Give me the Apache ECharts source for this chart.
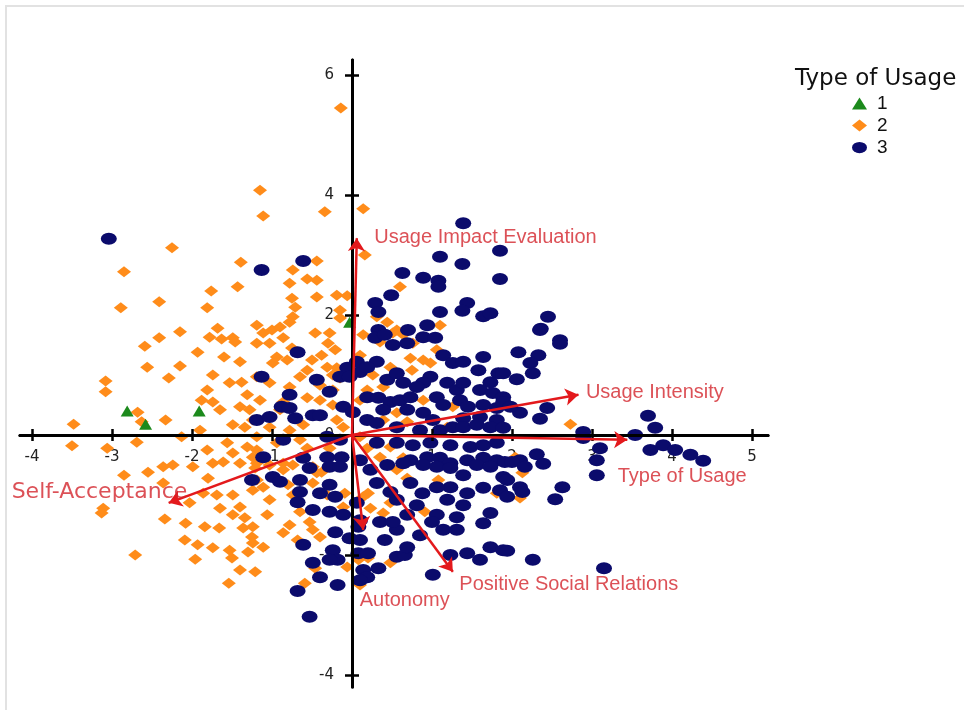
<!DOCTYPE html>
<html>
<head>
<meta charset="utf-8">
<script src="https://cdn.jsdelivr.net/npm/echarts@6/dist/echarts.min.js"></script>
<style>
  html, body { margin: 0; padding: 0; background: #fff; }
  #chart { position: absolute; left: 0; top: 0; width: 964px; height: 710px; }
  #frame { position: absolute; left: 5px; top: 5px; width: 959px; height: 705px;
           border-left: 2px solid #e2e2e2; border-top: 2px solid #e2e2e2; pointer-events: none; }
</style>
</head>
<body>
<div id="chart"></div>
<div id="frame"></div>
<script>
// ---------------- data ----------------
const seriesNames = ['1', '2', '3'];
const legendTitle = 'Type of Usage';

const xTickValues = [-4, -3, -2, -1, 0, 1, 2, 3, 4, 5];
const xTickLabels = [-4, -3, -2, -1, 1, 2, 3, 4, 5];
const yTickValues = [-4, -2, 0, 2, 4, 6];
const yTickLabels = [-4, -2, 0, 2, 4, 6];

const type1Points = [[-2.81, 0.4], [-2.58, 0.18], [-1.91, 0.4], [-0.03, 1.88]];

const type2Points = [
[-0.14,5.45],[-1.15,4.08],[-1.11,3.65],[-0.34,3.72],[0.14,3.77],[-2.25,3.12],[-2.85,2.72],[-1.39,2.88],[-1.76,2.4],[-1.43,2.47],[-2.41,2.22],[-2.89,2.12],[-1.81,2.12],[-1.68,1.78],[-2.15,1.72],[-1.19,1.83],[-2.41,1.62],[-1.78,1.63],[-1.49,1.62],[-0.44,2.9],[0.16,3.0],[-0.74,2.75],[-0.78,2.53],[-0.56,2.6],[-0.44,2.58],[-0.75,2.28],[-0.71,2.13],[-0.44,2.3],[-0.19,2.33],[-0.06,2.32],[0.6,2.47],[-0.15,2.08],[-0.74,1.97],[-0.15,1.95],[0.31,1.97],[-1.0,1.75],[-0.9,1.8],[-0.78,1.88],[-0.46,1.7],[0.44,1.88],[0.56,1.75],[1.1,1.83],[0.14,1.67],
[-2.59,1.48],[-1.93,1.38],[-1.63,1.6],[-1.46,1.55],[-2.56,1.13],[-2.15,1.15],[-2.29,0.95],[-1.6,1.3],[-1.4,1.22],[-1.74,1.0],[-3.08,0.9],[-3.08,0.72],[-1.81,0.75],[-1.53,0.87],[-1.38,0.88],[-1.31,0.67],[-1.88,0.58],[-1.74,0.55],[-1.65,0.42],[-1.4,0.47],[-1.28,0.42],[-2.68,0.38],[-2.63,0.22],[-2.33,0.25],[-3.48,0.18],[-1.9,0.08],[-1.49,0.17],[-1.34,0.13],[-2.13,-0.03],[-3.5,-0.18],[-3.06,-0.22],[-2.69,-0.12],[-1.81,-0.25],[-1.56,-0.13],[-1.49,-0.3],[-1.31,-0.2],[-1.24,-0.37],[-2.36,-0.53],[-2.24,-0.5],[-1.99,-0.53],[-1.74,-0.47],[-1.61,-0.45],
[-1.11,1.7],[-0.86,1.62],[-0.28,1.7],[-1.03,1.53],[-1.19,1.53],[-0.75,1.45],[-0.3,1.53],[-0.21,1.42],[-0.38,1.33],[-0.94,1.3],[-0.81,1.25],[-0.5,1.25],[-0.99,1.2],[-0.31,1.13],[-0.19,1.12],[-0.56,1.08],[-1.19,0.97],[-0.65,0.97],[-0.24,1.0],[-0.15,0.95],[-1.03,0.87],[-0.78,0.8],[-0.4,0.83],[-0.24,0.75],[-0.56,0.62],[-0.4,0.58],[-1.15,0.58],[-0.86,0.55],[-0.9,0.42],[-0.24,0.5],[-1.24,0.25],[-1.03,0.13],[-0.78,0.08],[-0.61,0.17],[-0.19,0.25],[-0.11,0.13],[-1.19,-0.03],[-0.94,-0.13],[-0.65,-0.08],[-1.19,-0.25],[-0.56,-0.22],[-0.28,-0.22],[-1.19,-0.47],[-0.86,-0.47],
[0.35,1.55],[0.51,1.7],[0.64,1.67],[0.76,1.53],[0.1,1.33],[0.26,1.0],[0.48,1.13],[0.73,1.28],[0.89,1.25],[0.98,1.2],[0.75,1.08],[1.06,1.42],[0.19,0.75],[0.39,0.8],[0.1,0.58],[0.56,0.37],[0.89,0.58],[0.39,0.25],[0.69,0.22],[1.19,0.13],[1.26,0.47],[0.1,-0.03],[0.19,-0.22],[0.35,-0.37],[0.48,-0.2],[0.64,-0.38],
[2.73,0.18],[2.04,-0.37],
[-2.85,-0.67],[-2.55,-0.62],[-2.36,-0.8],[-1.8,-0.72],[-1.4,-0.47],[-1.86,-0.97],[-1.69,-1.0],[-1.49,-1.0],[-2.03,-1.13],[-1.65,-1.22],[-1.4,-1.2],[-1.49,-1.33],[-1.34,-1.38],[-3.11,-1.22],[-3.13,-1.3],[-2.34,-1.4],[-2.08,-1.47],[-1.84,-1.53],[-1.66,-1.55],[-1.36,-1.55],[-1.24,-1.53],[-1.25,-1.7],[-2.09,-1.75],[-1.93,-1.83],[-1.74,-1.88],[-1.53,-1.92],[-1.3,-1.95],[-2.71,-2.0],[-1.96,-2.07],[-1.5,-2.05],[-1.4,-2.25],[-1.21,-2.28],[-1.54,-2.47],
[-1.21,-0.55],[-1.03,-0.5],[-0.86,-0.58],[-0.74,-0.5],[-0.49,-0.53],[-0.38,-0.62],[-1.19,-0.75],[-1.11,-0.87],[-1.03,-1.08],[-1.24,-0.92],[-0.8,-0.83],[-0.74,-1.0],[-0.49,-0.8],[-0.44,-0.63],[-0.31,-1.0],[-0.09,-0.97],[0.14,-1.03],[0.2,-0.97],[-0.65,-1.28],[-0.53,-1.45],[-0.4,-1.7],[-0.49,-1.58],[-0.78,-1.5],[-0.68,-1.75],[-0.86,-1.63],[-1.06,-1.33],[-1.24,-1.8],[-1.11,-1.87],[-0.46,-2.22],[-0.06,-2.2],[0.08,-2.08],[0.2,-2.05],[0.48,-2.13],[0.1,-2.5],[-0.59,-2.47],[0.39,-1.3],[0.48,-1.13],[0.91,-1.28],[0.69,-0.72],[0.56,-0.58],[1.08,-0.75],[1.81,-0.97],[-0.11,-1.2],[0.23,-1.22],
[2.13,-0.63],[2.1,-1.05]
];

const type3Points = [
[-3.04,3.27],[1.39,3.53],[-1.13,2.75],[-0.61,2.9],[1.1,2.97],[1.38,2.85],[1.85,3.07],[1.85,2.6],[0.63,2.7],[0.89,2.62],[1.08,2.57],[1.08,2.47],[0.49,2.33],[0.29,2.2],[0.33,2.05],[1.1,2.05],[1.44,2.2],[1.38,2.07],[1.64,1.98],[1.73,2.03],[2.45,1.97],[2.36,1.77],[2.6,1.58],[0.33,1.75],[0.7,1.75],[0.94,1.83],[0.89,1.63],[1.04,1.62],[0.29,1.62],
[-0.68,1.38],[-1.13,0.97],[0.31,1.22],[0.41,1.67],[0.51,1.5],[0.69,1.53],[1.14,1.33],[1.26,1.2],[1.39,1.22],[1.64,1.3],[1.83,1.03],[1.58,1.08],[0.98,0.97],[0.89,0.87],[0.81,0.8],[0.64,0.87],[0.44,0.92],[0.1,1.05],[-0.06,1.12],[-0.15,0.97],[-0.03,0.97],[0.06,1.22],[0.19,1.13],[0.56,1.03],[1.19,0.87],[1.31,0.75],[1.39,0.87],[1.73,0.88],[1.6,0.75],[1.76,0.7],[1.89,0.63],[-0.28,0.72],[-0.44,0.92],[-0.78,0.67],[-0.88,0.47],[-0.78,0.45],[-0.49,0.33],[-0.4,0.33],[-0.11,0.47],[0.01,0.38],[0.19,0.63],[0.33,0.62],[0.48,0.55],[0.6,0.58],[0.73,0.63],[1.06,0.63],[1.14,0.5],[1.35,0.58],[1.45,0.47],[1.64,0.5],[1.81,0.45],[1.89,0.55],[0.39,0.42],[0.69,0.42],[0.89,0.37],[1.01,0.25],[1.39,0.28],[1.6,0.3],[1.81,0.25],[-1.19,0.25],[-1.03,0.3],[-0.71,0.28],[0.19,0.25],[0.31,0.2],[0.56,0.13],[0.85,0.08],[1.1,0.08],[1.26,0.13],[1.39,0.13],[1.56,0.17],[1.73,0.13],[1.89,0.12],[-0.86,-0.08],[-0.31,-0.03],[-0.15,-0.08],[0.31,-0.13],[0.56,-0.13],[0.76,-0.17],[0.98,-0.13],[1.23,-0.17],[1.48,-0.2],[1.64,-0.17],[1.81,-0.13],[-0.61,-0.38],[-0.31,-0.37],[-0.13,-0.37],[0.1,-0.42],[0.73,-0.42],[0.94,-0.37],[1.1,-0.38],[1.23,-0.47],[1.44,-0.42],[1.64,-0.38],[1.81,-0.42],[-1.11,-0.37],
[2.35,1.75],[2.6,1.52],[2.08,1.38],[2.33,1.33],[2.23,1.2],[2.26,1.03],[2.06,0.93],[1.89,1.03],[2.44,0.45],[2.35,0.27],[2.1,0.37],[1.98,0.47],[2.89,0.05],[2.89,-0.05],[3.1,-0.22],[3.06,-0.42],[3.7,0.32],[3.79,0.12],[3.54,0.0],[3.73,-0.25],[3.89,-0.17],[4.04,-0.25],[4.23,-0.33],[4.39,-0.43],[2.31,-0.32],[2.39,-0.48],[2.1,-0.42],[1.91,-0.45],
[-1.25,-0.75],[-0.99,-0.7],[-0.9,-0.78],[-0.65,-0.75],[-0.53,-0.55],[-0.28,-0.53],[-0.15,-0.53],[-0.28,-0.83],[-0.4,-0.97],[-0.21,-1.03],[-0.65,-0.95],[-0.68,-1.12],[-0.49,-1.25],[-0.28,-1.28],[-0.11,-1.33],[0.06,-1.13],[0.1,-1.42],[0.08,-1.53],[-0.21,-1.62],[-0.03,-1.72],[0.1,-1.75],[-0.61,-1.83],[-0.24,-1.92],[-0.18,-2.08],[-0.49,-2.13],[-0.28,-2.08],[0.08,-1.97],[0.2,-1.97],[0.33,-2.22],[0.14,-2.25],[0.19,-2.37],[0.1,-2.42],[-0.4,-2.37],[-0.18,-2.5],[-0.68,-2.6],[-0.53,-3.03],[0.56,-2.03],[0.66,-2.0],[0.41,-1.75],[0.56,-1.58],[0.35,-1.45],[0.51,-1.45],[0.69,-1.33],[0.81,-1.17],[0.56,-1.08],[0.48,-0.95],[0.31,-0.8],[0.23,-0.58],[0.44,-0.5],[0.64,-0.47],[0.89,-0.5],[1.06,-0.53],[1.23,-0.55],[1.39,-0.67],[1.56,-0.5],[1.73,-0.53],[1.89,-0.7],[1.85,-0.92],[1.64,-0.88],[1.44,-0.97],[1.23,-0.87],[1.06,-0.87],[0.88,-0.97],[0.73,-0.8],[1.19,-1.08],[1.39,-1.17],[1.31,-1.37],[1.06,-1.33],[1.0,-1.45],[1.14,-1.58],[1.31,-1.58],[1.64,-1.47],[1.73,-1.3],[1.73,-1.87],[1.89,-1.92],[1.44,-1.97],[1.6,-2.08],[1.23,-2.0],[1.01,-2.33],[0.85,-1.67],[0.69,-1.87],
[2.0,-0.45],[2.16,-0.53],[3.06,-0.67],[1.94,-0.75],[2.1,-0.87],[1.94,-1.03],[2.13,-0.95],[2.63,-0.87],[2.54,-1.07],[1.94,-1.93],[2.26,-2.08],[3.15,-2.22]
];

const vectorNames = ['Usage Impact Evaluation', 'Usage Intensity', 'Type of Usage',
                     'Self-Acceptance', 'Autonomy', 'Positive Social Relations'];
const vectorX = [0.06, 2.83, 3.44, -2.29, 0.14, 1.26];
const vectorY = [3.28, 0.67, -0.08, -1.13, -1.58, -2.28];

// ---------------- styling ----------------
const FONT = "'Liberation Sans', Arial, Helvetica, sans-serif";
const WIDE_FONT = "'DejaVu Sans', Verdana, sans-serif";
const NAVY = '#0b0b6c';
const ORANGE = '#ff8c1a';
const GREEN = '#1c8a1c';
const ARROW_RED = '#e3191c';
const LABEL_RED = '#d3262d';
const ELLIPSE = 'path://M0,6a8,6 0 1,0 16,0a8,6 0 1,0 -16,0z';

// label placement of vector names relative to arrow tips (pixels)
const vectorLabelStyle = [
  { position: [18, 0], align: 'left', font: FONT, size: 20 },
  { position: [8, -2], align: 'left', font: FONT, size: 20 },
  { position: [-9, 37], align: 'left', font: FONT, size: 20 },
  { position: [19, -10], align: 'right', font: WIDE_FONT, size: 22 },
  { position: [-3, 71], align: 'left', font: FONT, size: 20 },
  { position: [7, 13], align: 'left', font: FONT, size: 20 }
];

const X_MIN = -4.15, X_MAX = 5.2, Y_MIN = -4.2, Y_MAX = 6.25;
const GRID = { left: 20, top: 60, width: 748, height: 627 };
// distance of the zero lines from the grid edges (derived from the scales)
const zeroFromBottom = GRID.height * (0 - Y_MIN) / (Y_MAX - Y_MIN);
const zeroFromLeft = GRID.width * (0 - X_MIN) / (X_MAX - X_MIN);

const lineStyle = { color: '#000', width: 3 };
const tickStyle = { color: '#000', width: 2.5 };

function xLineAxis(pos) {
  return {
    type: 'value', min: X_MIN, max: X_MAX, z: 3, position: pos,
    axisLine: { show: true, onZero: true, onZeroAxisIndex: 0, lineStyle },
    axisTick: { show: true, inside: false, length: 6, customValues: xTickValues, lineStyle: tickStyle },
    axisLabel: { show: false }, splitLine: { show: false }
  };
}
function yLineAxis(pos) {
  return {
    type: 'value', min: Y_MIN, max: Y_MAX, z: 3, position: pos,
    axisLine: { show: true, onZero: true, onZeroAxisIndex: 0, lineStyle },
    axisTick: { show: true, inside: false, length: 7, customValues: yTickValues, lineStyle: tickStyle },
    axisLabel: { show: false }, splitLine: { show: false }
  };
}

const chart = echarts.init(document.getElementById('chart'), null, { renderer: 'canvas' });

const arrowData = vectorNames.map((n, i) => ({ name: n, coords: [[0, 0], [vectorX[i], vectorY[i]]] }));
const tipData = vectorNames.map((n, i) => ({
  name: n, value: [vectorX[i], vectorY[i]],
  label: { position: vectorLabelStyle[i].position, align: vectorLabelStyle[i].align,
           fontFamily: vectorLabelStyle[i].font, fontSize: vectorLabelStyle[i].size }
}));

chart.setOption({
  animation: false,
  backgroundColor: '#fff',
  title: {
    text: legendTitle, left: 790, top: 63,
    textStyle: { fontSize: 23, fontWeight: 'normal', color: '#111', fontFamily: WIDE_FONT }
  },
  legend: {
    orient: 'vertical', left: 847, top: 89,
    itemWidth: 15, itemHeight: 12, itemGap: 3,
    textStyle: { fontSize: 19, color: '#111', fontFamily: FONT, padding: [0, 0, 0, 5] },
    data: [
      { name: seriesNames[0], icon: 'triangle' },
      { name: seriesNames[1], icon: 'diamond' },
      { name: seriesNames[2], icon: ELLIPSE }
    ]
  },
  grid: Object.assign({ containLabel: false, outerBoundsMode: 'none' }, GRID),
  xAxis: [
    xLineAxis('bottom'),
    xLineAxis('top'),
    {
      type: 'value', min: X_MIN, max: X_MAX, position: 'bottom', offset: -zeroFromBottom, z: 1,
      axisLine: { show: false, onZero: false }, axisTick: { show: false },
      axisLabel: { show: true, customValues: xTickLabels, margin: 15,
                   color: '#222', fontSize: 15, fontFamily: WIDE_FONT },
      splitLine: { show: false }
    }
  ],
  yAxis: [
    yLineAxis('left'),
    yLineAxis('right'),
    {
      type: 'value', min: Y_MIN, max: Y_MAX, position: 'left', offset: -zeroFromLeft, z: 1,
      axisLine: { show: false, onZero: false }, axisTick: { show: false },
      axisLabel: { show: true, customValues: yTickLabels, margin: 18,
                   color: '#222', fontSize: 15, fontFamily: WIDE_FONT },
      splitLine: { show: false }
    }
  ],
  series: [
    {
      name: seriesNames[1], type: 'scatter', symbol: 'diamond', symbolSize: [14, 11],
      itemStyle: { color: ORANGE, opacity: 1 }, data: type2Points, z: 2
    },
    {
      name: seriesNames[2], type: 'scatter', symbol: ELLIPSE, symbolSize: [16, 12],
      itemStyle: { color: NAVY, opacity: 1 }, data: type3Points, z: 2
    },
    {
      name: seriesNames[0], type: 'scatter', symbol: 'triangle', symbolSize: [13, 11],
      itemStyle: { color: GREEN, opacity: 1 }, data: type1Points, z: 2
    },
    {
      name: 'vectors', type: 'lines', coordinateSystem: 'cartesian2d', z: 5,
      symbol: ['none', 'arrow'], symbolSize: 13,
      lineStyle: { color: ARROW_RED, width: 2.5, opacity: 1, curveness: 0 },
      data: arrowData, silent: true
    },
    {
      name: 'vectorLabels', type: 'scatter', z: 6, symbol: 'circle', symbolSize: 1,
      itemStyle: { color: ARROW_RED },
      label: { show: true, formatter: '{b}', verticalAlign: 'middle',
               color: LABEL_RED, fontSize: 20, fontFamily: FONT },
      data: tipData, silent: true
    }
  ]
});
</script>
</body>
</html>
